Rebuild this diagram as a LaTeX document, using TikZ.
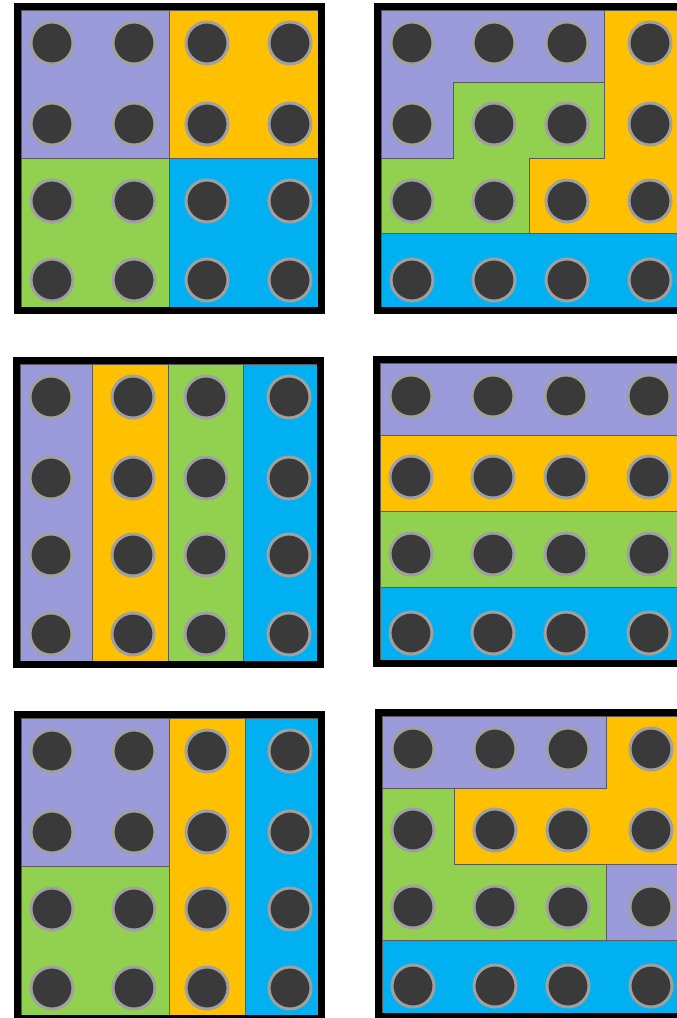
\documentclass[tikz,border=0pt]{standalone}
\definecolor{clrpurple}{HTML}{9B9BDC}
\definecolor{clrorange}{HTML}{FFC000}
\definecolor{clrgreen}{HTML}{92D050}
\definecolor{clrblue}{HTML}{00B0F0}
\definecolor{clrdot}{HTML}{3A3A3A}
\definecolor{clrring}{HTML}{A0A0A0}
\definecolor{clredge}{HTML}{5A5A5A}
\newcommand{\dotgrid}{%
  \foreach \cx in {31,113,186,269}
    \foreach \cy in {33,114,191,270}
      \draw[dot] (\cx,\cy) circle (21);
  \draw[frame] (-3.5,-3.5) rectangle (300.5,300.5);}

\begin{document}
\begin{tikzpicture}[
    x=1pt, y=-1pt,
    region/.style={draw=clredge, line width=0.6pt, line join=miter},
    dot/.style={fill=clrdot, draw=clrring, line width=3pt},
    frame/.style={draw=black, line width=7pt, line join=miter},
]
\useasboundingbox (0,0) rectangle (677,1018);
\clip (0,0) rectangle (677,1018);
% four quadrants
\begin{scope}[shift={(21,10)}]
  \filldraw[region, fill=clrpurple] (0,0) rectangle (148,148);
  \filldraw[region, fill=clrorange] (148,0) rectangle (297,148);
  \filldraw[region, fill=clrgreen] (0,148) rectangle (148,297);
  \filldraw[region, fill=clrblue] (148,148) rectangle (297,297);
  \dotgrid
\end{scope}
% stepped pieces
\begin{scope}[shift={(381,10)}]
  \filldraw[region, fill=clrpurple] (0,0) -- (223,0) -- (223,72) -- (72,72) -- (72,148) -- (0,148) -- cycle;
  \filldraw[region, fill=clrgreen] (72,72) -- (223,72) -- (223,148) -- (148,148) -- (148,223) -- (0,223) -- (0,148) -- (72,148) -- cycle;
  \filldraw[region, fill=clrorange] (223,0) -- (297,0) -- (297,223) -- (148,223) -- (148,148) -- (223,148) -- cycle;
  \filldraw[region, fill=clrblue] (0,223) rectangle (297,297);
  \dotgrid
\end{scope}
% columns
\begin{scope}[shift={(20,364)}]
  \filldraw[region, fill=clrpurple] (0,0) rectangle (72,297);
  \filldraw[region, fill=clrorange] (72,0) rectangle (148,297);
  \filldraw[region, fill=clrgreen] (148,0) rectangle (223,297);
  \filldraw[region, fill=clrblue] (223,0) rectangle (297,297);
  \dotgrid
\end{scope}
% rows
\begin{scope}[shift={(380,363)}]
  \filldraw[region, fill=clrpurple] (0,0) rectangle (297,72);
  \filldraw[region, fill=clrorange] (0,72) rectangle (297,148);
  \filldraw[region, fill=clrgreen] (0,148) rectangle (297,224);
  \filldraw[region, fill=clrblue] (0,224) rectangle (297,297);
  \dotgrid
\end{scope}
% mixed blocks and columns
\begin{scope}[shift={(21,718)}]
  \filldraw[region, fill=clrpurple] (0,0) rectangle (148,148);
  \filldraw[region, fill=clrgreen] (0,148) rectangle (148,297);
  \filldraw[region, fill=clrorange] (148,0) rectangle (224,297);
  \filldraw[region, fill=clrblue] (224,0) rectangle (297,297);
  \dotgrid
\end{scope}
% interlocking pieces
\begin{scope}[shift={(382,716)}]
  \filldraw[region, fill=clrpurple] (0,0) rectangle (224,72);
  \filldraw[region, fill=clrorange] (224,0) -- (297,0) -- (297,148) -- (72,148) -- (72,72) -- (224,72) -- cycle;
  \filldraw[region, fill=clrgreen] (0,72) -- (72,72) -- (72,148) -- (224,148) -- (224,224) -- (0,224) -- cycle;
  \filldraw[region, fill=clrpurple] (224,148) rectangle (297,224);
  \filldraw[region, fill=clrblue] (0,224) rectangle (297,297);
  \dotgrid
\end{scope}
\end{tikzpicture}
\end{document}
